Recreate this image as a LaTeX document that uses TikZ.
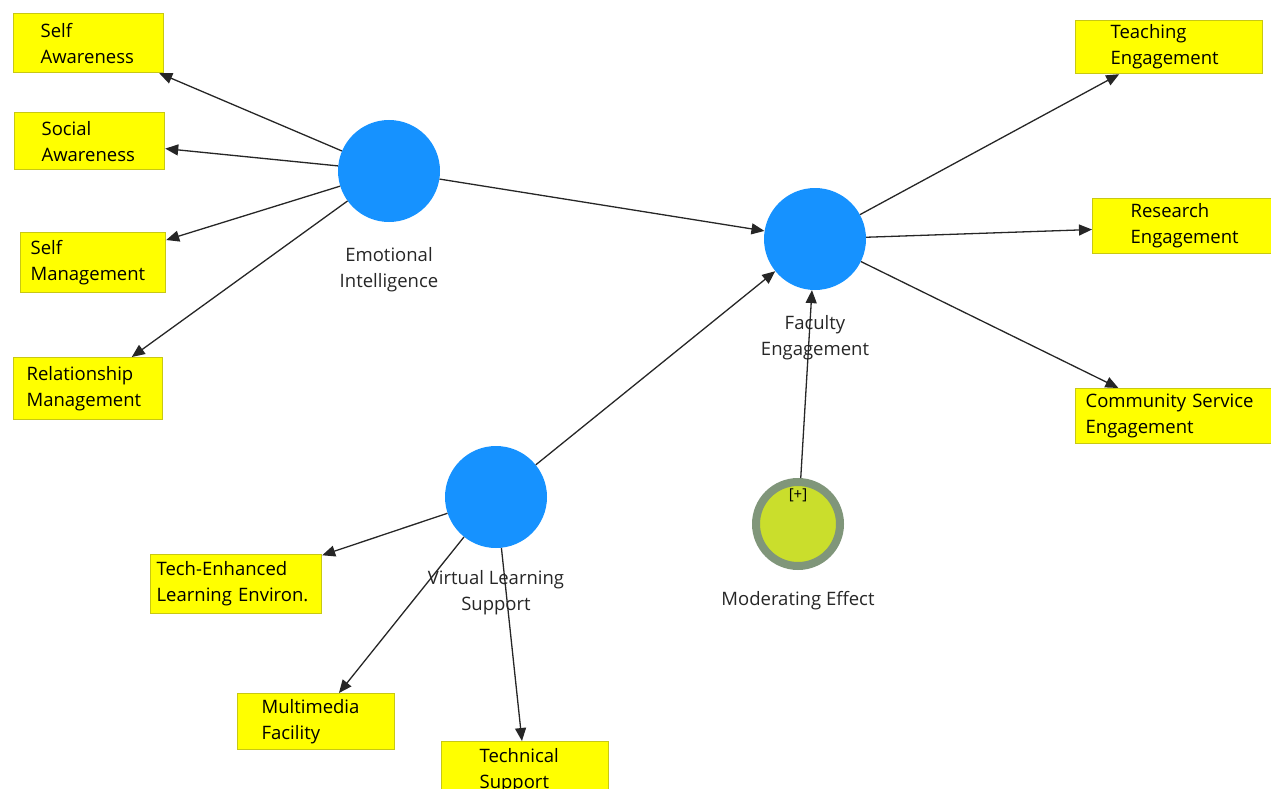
\documentclass[tikz,border=0pt]{standalone}
\usepackage{fontspec}
\setmainfont{Open Sans}
\usetikzlibrary{arrows.meta}

\definecolor{latblue}{RGB}{22,146,255}
\definecolor{indfill}{RGB}{255,255,0}
\definecolor{indframe}{RGB}{200,200,20}
\definecolor{modring}{RGB}{128,150,122}
\definecolor{modfill}{RGB}{202,222,44}
\newcommand\lvfont{\fontsize{18.5}{26}\selectfont}
\newcommand\smfont{\fontsize{15}{16}\selectfont}

\tikzset{
  indbox/.style={draw=indframe, fill=indfill, line width=1.2pt, anchor=north west,
    inner ysep=0pt, align=left, font=\lvfont, text=black},
  latent/.style={circle, fill=latblue, minimum size=102pt, inner sep=0pt},
  lvlabel/.style={align=center, inner sep=0pt, font=\lvfont, text=black!85},
  relarrow/.style={-{Triangle[length=13pt,width=11pt]}, line width=1.3pt, draw=black!85},
}

\begin{document}
\begin{tikzpicture}[x=1pt, y=-1pt]
  \clip (0,0) rectangle (1271,789);
  % latent variables
  \node[latent, label={[lvlabel, label distance=25pt]below:Emotional\\Intelligence}] (EI) at (389,171) {};
  \node[latent, label={[lvlabel, label distance=25pt]below:Faculty\\Engagement}] (FE) at (815,239) {};
  \node[latent, label={[lvlabel, label distance=22pt]below:Virtual Learning\\Support}] (VLS) at (496,497) {};
  \node[circle, draw=modring, line width=8pt, fill=modfill, minimum size=84pt, inner sep=0pt,
    label={[lvlabel, label distance=21pt]below:Moderating Effect},
    label={[font=\smfont, inner sep=0pt, yshift=29pt]center:{[+]}}] (ME) at (798,524) {};
  % indicators
  \node[indbox, minimum height=59pt, text width=96pt, inner xsep=27pt] (SA) at (13,13) {Self\\Awareness};
  \node[indbox, minimum height=57pt, text width=96pt, inner xsep=27pt] (SoA) at (14,112) {Social\\Awareness};
  \node[indbox, minimum height=60pt, text width=125pt, inner xsep=10pt] (SM) at (20,232) {Self\\Management};
  \node[indbox, minimum height=62pt, text width=123pt, inner xsep=13pt] (RM) at (13,357) {Relationship\\Management};
  \node[indbox, minimum height=53pt, text width=117pt, inner xsep=35pt] (TE) at (1075,20) {Teaching\\Engagement};
  \node[indbox, minimum height=55pt, text width=124pt, inner xsep=38pt] (RE) at (1092,198) {Research\\Engagement};
  \node[indbox, minimum height=55pt, text width=180pt, inner xsep=10pt] (CSE) at (1075,388) {Community Service\\Engagement};
  \node[indbox, minimum height=59pt, text width=159pt, inner xsep=6pt] (TELE) at (150,554) {Tech-Enhanced\\Learning Environ.};
  \node[indbox, minimum height=56pt, text width=109pt, inner xsep=24pt] (MF) at (237,693) {Multimedia\\Facility};
  \node[indbox, minimum height=58pt, text width=91pt, inner xsep=38pt] (TS) at (441,741) {Technical\\Support};
  % paths
  \draw[relarrow] (EI) -- (SA);
  \draw[relarrow] (EI) -- (SoA);
  \draw[relarrow] (EI) -- (SM);
  \draw[relarrow] (EI) -- (RM);
  \draw[relarrow] (EI) -- (FE);
  \draw[relarrow] (VLS) -- (FE);
  \draw[relarrow] (ME) -- (FE);
  \draw[relarrow] (FE) -- (TE);
  \draw[relarrow] (FE) -- (RE);
  \draw[relarrow] (FE) -- (CSE);
  \draw[relarrow] (VLS) -- (TELE);
  \draw[relarrow] (VLS) -- (MF);
  \draw[relarrow] (VLS) -- (TS);
\end{tikzpicture}
\end{document}
